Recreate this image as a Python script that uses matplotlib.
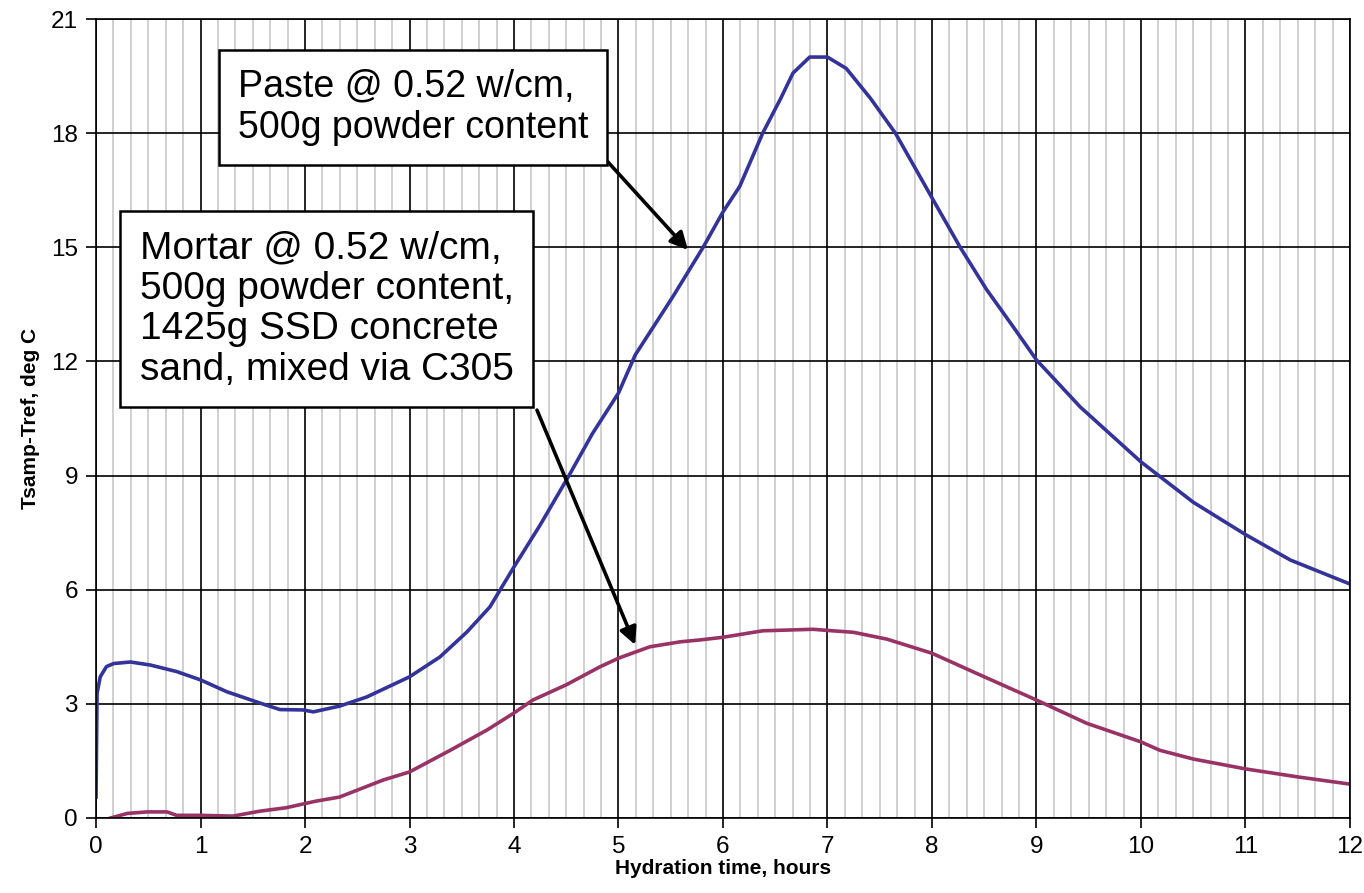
import matplotlib
matplotlib.use("Agg")
import matplotlib.pyplot as plt
import numpy as np
from matplotlib.ticker import MultipleLocator

plt.rcParams['font.family'] = ['Liberation Sans', 'DejaVu Sans']

# paste curve
paste_t = [0.0, 0.005, 0.01, 0.04, 0.1, 0.17, 0.33, 0.52, 0.77, 1.0, 1.25, 1.57,
           1.76, 1.98, 2.08, 2.33, 2.59, 3.0, 3.29, 3.55, 3.77, 4.0, 4.25, 4.52,
           4.75, 5.0, 5.16, 5.52, 5.81, 6.0, 6.16, 6.38, 6.55, 6.67, 6.83, 7.0,
           7.18, 7.41, 7.65, 7.85, 8.0, 8.27, 8.52, 8.78, 9.0, 9.42, 10.0, 10.5,
           11.0, 11.43, 12.0]
paste_v = [0.55, 2.0, 3.28, 3.71, 3.98, 4.06, 4.1, 4.02, 3.85, 3.63, 3.32, 3.02,
           2.85, 2.84, 2.79, 2.94, 3.18, 3.71, 4.23, 4.89, 5.55, 6.6, 7.7, 8.97,
           10.1, 11.17, 12.17, 13.7, 15.0, 15.93, 16.6, 18.0, 18.9, 19.58, 20.0, 20.0,
           19.7, 18.92, 18.0, 17.03, 16.3, 15.0, 13.9, 12.9, 12.04, 10.8, 9.36, 8.3,
           7.45, 6.78, 6.15]

# mortar curve
mortar_t = [0.14, 0.3, 0.49, 0.68, 0.77, 1.0, 1.31, 1.57, 1.82, 2.1, 2.33, 2.75,
            3.0, 3.39, 3.74, 4.0, 4.18, 4.5, 4.82, 5.0, 5.3, 5.59, 5.78, 6.0, 6.38,
            6.86, 7.0, 7.25, 7.57, 8.0, 8.46, 9.0, 9.48, 10.0, 10.18, 10.5, 11.0,
            11.5, 12.0]
mortar_v = [0.0, 0.12, 0.16, 0.16, 0.07, 0.07, 0.05, 0.18, 0.27, 0.44, 0.55, 1.0,
            1.21, 1.78, 2.31, 2.76, 3.1, 3.5, 3.97, 4.2, 4.5, 4.63, 4.68, 4.75, 4.92,
            4.96, 4.93, 4.88, 4.7, 4.33, 3.76, 3.1, 2.49, 2.0, 1.78, 1.55, 1.29,
            1.08, 0.89]

fig = plt.figure(figsize=(13.64, 8.93), dpi=100)
ax = fig.add_axes([0.0704, 0.084, 0.9193, 0.8947])

ax.plot(paste_t, paste_v, color='#333399', lw=2.6)
ax.plot(mortar_t, mortar_v, color='#993366', lw=2.6)

ax.set_xlim(0, 12)
ax.set_ylim(0, 21)
ax.xaxis.set_major_locator(MultipleLocator(1))
ax.xaxis.set_minor_locator(MultipleLocator(1 / 6))
ax.yaxis.set_major_locator(MultipleLocator(3))
ax.grid(which='minor', axis='x', color='#c8c8c8', lw=1.2)
ax.grid(which='major', color='black', lw=1.2)
ax.set_axisbelow(True)
ax.tick_params(which='minor', length=0)
ax.tick_params(which='major', length=7, width=1.2, labelsize=17.5, color='black', pad=6)
for s in ax.spines.values():
    s.set_color('black')
    s.set_linewidth(1.2)

ax.set_xlabel('Hydration time, hours', fontsize=15, fontweight='bold', labelpad=1)
ax.set_ylabel('Tsamp-Tref, deg C', fontsize=15, fontweight='bold', labelpad=8)

box = dict(boxstyle='square,pad=0.5', fc='white', ec='black', lw=1.8)
arr = dict(arrowstyle='-|>', color='black', lw=2.6, mutation_scale=26, shrinkA=0, shrinkB=0)

ax.text(1.36, 19.7, 'Paste @ 0.52 w/cm,\n500g powder content', fontsize=27,
        va='top', ha='left', bbox=box, linespacing=1.2, zorder=5)
ax.text(0.42, 15.45, 'Mortar @ 0.52 w/cm,\n500g powder content,\n1425g SSD concrete\nsand, mixed via C305',
        fontsize=28, va='top', ha='left', bbox=box, linespacing=1.16, zorder=5)

# arrows leave from the bottom right corners of the boxes
ax.annotate('', xy=(5.665, 14.93), xytext=(4.89, 17.27), arrowprops=arr, zorder=4)
ax.annotate('', xy=(5.16, 4.55), xytext=(4.22, 10.72), arrowprops=arr, zorder=4)

fig.savefig('out.png', dpi=100)
